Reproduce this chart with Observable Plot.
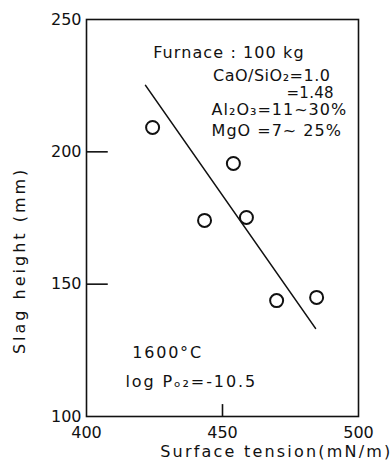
<!DOCTYPE html>
<html><head><meta charset="utf-8">
<script src="https://cdn.jsdelivr.net/npm/d3@7"></script>
<script src="https://cdn.jsdelivr.net/npm/@observablehq/plot@0.6"></script>
<style>body{margin:0;background:#fff}svg{display:block;}</style>
</head><body><div id="chart"></div>
<script>
const tension = [424.3, 443.4, 454.0, 458.8, 469.9, 484.6];
const height = [209.2, 174.1, 195.6, 175.2, 143.8, 145.0];
const fitX = [421.7, 484.2];
const fitY = [225.1, 133.3];
const xTicks = [400, 450, 500];
const yTicks = [100, 150, 200, 250];
const notes = [
  {x: 424.5, y: 237.5, t: "Furnace : 100 kg", s: 16},
  {x: 446.5, y: 228.7, t: "CaO/SiO₂=1.0", s: 16},
  {x: 473.5, y: 222.2, t: "=1.48", s: 15},
  {x: 446, y: 215.7, t: "Al₂O₃=11~30%", s: 16},
  {x: 446, y: 208, t: "MgO =7~ 25%", s: 16},
  {x: 416.8, y: 124, t: "1600°C", s: 16},
  {x: 414.3, y: 113, t: "log Pₒ₂=-10.5", s: 16}
];
const spacing = {
  "Furnace : 100 kg": 1.1, "CaO/SiO₂=1.0": 0.5, "=1.48": 0.3,
  "Al₂O₃=11~30%": 1, "MgO =7~ 25%": 1, "1600°C": 1.8, "log Pₒ₂=-10.5": 1.9,
  "Surface tension(mN/m)": 2.2, "Slag height (mm)": 3
};
const pts = tension.map((x,i)=>({x, y: height[i]}));
const font = "DejaVu Sans, sans-serif";
const chart = Plot.plot({
  width: 392, height: 464,
  marginLeft: 86, marginRight: 34, marginTop: 19, marginBottom: 48,
  style: {fontFamily: font, fontSize: "16px", color: "#111", background: "#fff"},
  x: {domain: [400, 500]},
  y: {domain: [100, 250]},
  marks: [
    Plot.frame({stroke: "#111", strokeWidth: 1.6}),
    Plot.ruleY([150, 200], {x1: 400, x2: 408, stroke: "#111", strokeWidth: 1.6}),
    Plot.ruleX([450], {y1: 100, y2: 104.5, stroke: "#111", strokeWidth: 1.6}),
    Plot.axisX(xTicks, {tickSize: 0, tickPadding: 10, label: null, fontSize: 16, fill: "#111"}),
    Plot.axisY(yTicks, {tickSize: 0, tickPadding: 5, label: null, fontSize: 16, fill: "#111"}),
    Plot.text(["Surface tension(mN/m)"], {frameAnchor: "bottom-right", dx: 34, dy: 40, textAnchor: "end", fontSize: 16, fill: "#111"}),
    Plot.text([{x: 375.5, y: 159, t: "Slag height (mm)"}], {x: "x", y: "y", text: "t", rotate: -90, fontSize: 16, fill: "#111"}),
    Plot.line(fitX.map((x,i)=>({x, y: fitY[i]})), {x: "x", y: "y", stroke: "#111", strokeWidth: 1.6}),
    Plot.dot(pts, {x: "x", y: "y", r: 6.5, stroke: "#111", strokeWidth: 2, fill: "none"}),
    Plot.text(notes, {x: "x", y: "y", text: "t", fontSize: d => d.s, textAnchor: "start", fill: "#111"})
  ]
});
chart.querySelectorAll("text").forEach(el => {
  const s = spacing[el.textContent];
  if (s != null) el.style.letterSpacing = s + "px";
});
document.getElementById("chart").append(chart);
</script></body></html>
